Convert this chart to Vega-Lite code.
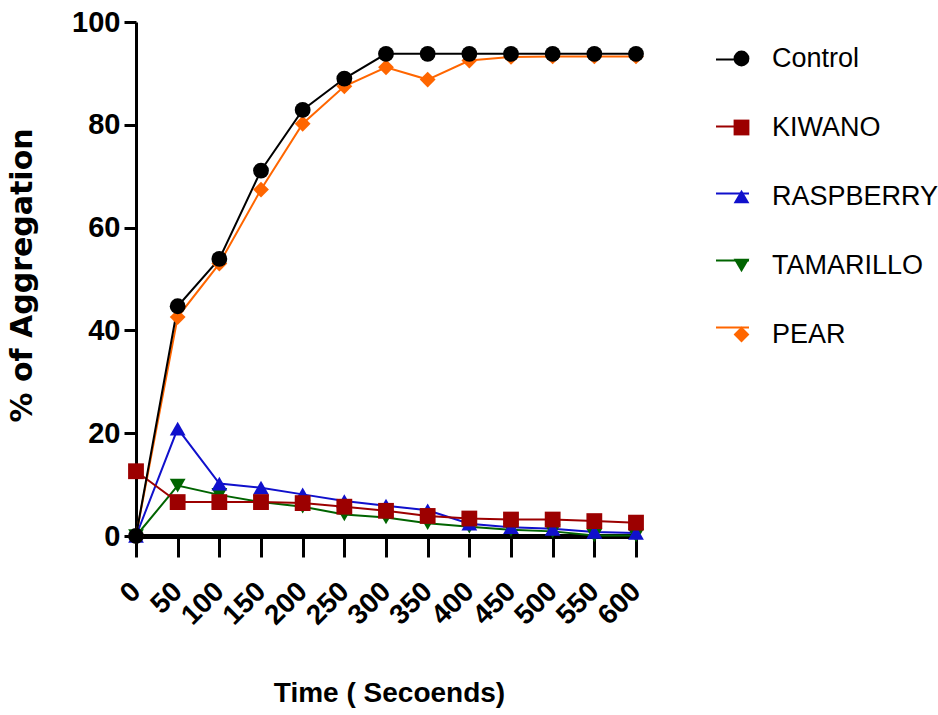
{
  "$schema": "https://vega.github.io/schema/vega-lite/v6.json",
  "width": 500,
  "height": 514,
  "autosize": {"type": "none"},
  "padding": {"left": 136, "top": 22, "right": 302, "bottom": 179},
  "background": "white",
  "config": {"view": {"stroke": null}, "font": "Liberation Sans"},
  "data": {
    "values": [
      {"t": 0, "series": "PEAR", "v": 0},
      {"t": 50, "series": "PEAR", "v": 42.6},
      {"t": 100, "series": "PEAR", "v": 53.0},
      {"t": 150, "series": "PEAR", "v": 67.4},
      {"t": 200, "series": "PEAR", "v": 80.2},
      {"t": 250, "series": "PEAR", "v": 87.5},
      {"t": 300, "series": "PEAR", "v": 91.2},
      {"t": 350, "series": "PEAR", "v": 88.8},
      {"t": 400, "series": "PEAR", "v": 92.5},
      {"t": 450, "series": "PEAR", "v": 93.2},
      {"t": 500, "series": "PEAR", "v": 93.3},
      {"t": 550, "series": "PEAR", "v": 93.3},
      {"t": 600, "series": "PEAR", "v": 93.3},
      {"t": 0, "series": "TAMARILLO", "v": 0},
      {"t": 50, "series": "TAMARILLO", "v": 9.8},
      {"t": 100, "series": "TAMARILLO", "v": 8.0},
      {"t": 150, "series": "TAMARILLO", "v": 6.6},
      {"t": 200, "series": "TAMARILLO", "v": 5.7},
      {"t": 250, "series": "TAMARILLO", "v": 4.2},
      {"t": 300, "series": "TAMARILLO", "v": 3.6},
      {"t": 350, "series": "TAMARILLO", "v": 2.5},
      {"t": 400, "series": "TAMARILLO", "v": 1.8},
      {"t": 450, "series": "TAMARILLO", "v": 1.2},
      {"t": 500, "series": "TAMARILLO", "v": 0.9},
      {"t": 550, "series": "TAMARILLO", "v": 0.1},
      {"t": 600, "series": "TAMARILLO", "v": 0.1},
      {"t": 0, "series": "RASPBERRY", "v": 0},
      {"t": 50, "series": "RASPBERRY", "v": 20.9},
      {"t": 100, "series": "RASPBERRY", "v": 10.2},
      {"t": 150, "series": "RASPBERRY", "v": 9.4},
      {"t": 200, "series": "RASPBERRY", "v": 8.1},
      {"t": 250, "series": "RASPBERRY", "v": 6.8},
      {"t": 300, "series": "RASPBERRY", "v": 5.9},
      {"t": 350, "series": "RASPBERRY", "v": 5.0},
      {"t": 400, "series": "RASPBERRY", "v": 2.4},
      {"t": 450, "series": "RASPBERRY", "v": 1.7},
      {"t": 500, "series": "RASPBERRY", "v": 1.4},
      {"t": 550, "series": "RASPBERRY", "v": 0.8},
      {"t": 600, "series": "RASPBERRY", "v": 0.6},
      {"t": 0, "series": "KIWANO", "v": 12.6},
      {"t": 50, "series": "KIWANO", "v": 6.6},
      {"t": 100, "series": "KIWANO", "v": 6.6},
      {"t": 150, "series": "KIWANO", "v": 6.6},
      {"t": 200, "series": "KIWANO", "v": 6.4},
      {"t": 250, "series": "KIWANO", "v": 5.7},
      {"t": 300, "series": "KIWANO", "v": 4.9},
      {"t": 350, "series": "KIWANO", "v": 3.9},
      {"t": 400, "series": "KIWANO", "v": 3.4},
      {"t": 450, "series": "KIWANO", "v": 3.2},
      {"t": 500, "series": "KIWANO", "v": 3.2},
      {"t": 550, "series": "KIWANO", "v": 2.9},
      {"t": 600, "series": "KIWANO", "v": 2.6},
      {"t": 0, "series": "Control", "v": 0},
      {"t": 50, "series": "Control", "v": 44.7},
      {"t": 100, "series": "Control", "v": 53.9},
      {"t": 150, "series": "Control", "v": 71.1},
      {"t": 200, "series": "Control", "v": 82.9},
      {"t": 250, "series": "Control", "v": 89.0},
      {"t": 300, "series": "Control", "v": 93.8},
      {"t": 350, "series": "Control", "v": 93.8},
      {"t": 400, "series": "Control", "v": 93.8},
      {"t": 450, "series": "Control", "v": 93.8},
      {"t": 500, "series": "Control", "v": 93.8},
      {"t": 550, "series": "Control", "v": 93.8},
      {"t": 600, "series": "Control", "v": 93.8}
    ]
  },
  "encoding": {
    "x": {
      "field": "t",
      "type": "quantitative",
      "scale": {"domain": [0, 600], "nice": false, "zero": false},
      "axis": {
        "values": [0, 50, 100, 150, 200, 250, 300, 350, 400, 450, 500, 550, 600],
        "title": "Time ( Secoends)",
        "titleFont": "Liberation Sans",
        "titleFontSize": 28,
        "titleFontWeight": "bold",
        "titleColor": "black",
        "titleY": 165,
        "titleBaseline": "alphabetic",
        "titleX": 253,
        "titleAlign": "center",
        "labelAngle": -45,
        "labelAlign": "right",
        "labelBaseline": "middle",
        "labelFont": "Liberation Sans",
        "labelFontSize": 28,
        "labelFontWeight": "bold",
        "labelColor": "black",
        "labelPadding": 30,
        "labelDx": 4,
        "labelFlush": false,
        "labelOverlap": false,
        "tickSize": 21,
        "tickWidth": 3,
        "tickColor": "black",
        "domainColor": "black",
        "domainWidth": 5,
        "grid": false
      }
    },
    "y": {
      "field": "v",
      "type": "quantitative",
      "scale": {"domain": [0, 100], "nice": false},
      "axis": {
        "values": [0, 20, 40, 60, 80, 100],
        "title": "% of Aggregation",
        "titleFont": "DejaVu Sans",
        "titleFontSize": 30,
        "titleFontWeight": "bold",
        "titleColor": "black",
        "titleAngle": -90,
        "titleX": -114,
        "titleY": 253,
        "titleAlign": "center",
        "titleBaseline": "middle",
        "labelFont": "Liberation Sans",
        "labelFontSize": 29,
        "labelFontWeight": "bold",
        "labelColor": "black",
        "labelPadding": 4,
        "labelFlush": false,
        "tickSize": 12,
        "tickWidth": 3,
        "tickColor": "black",
        "domainColor": "black",
        "domainWidth": 3,
        "grid": false
      }
    }
  },
  "layer": [
    {
      "mark": {"type": "line", "strokeWidth": 2},
      "encoding": {
        "stroke": {
          "field": "series",
          "type": "nominal",
          "scale": {
            "domain": ["Control", "KIWANO", "RASPBERRY", "TAMARILLO", "PEAR"],
            "range": ["#000000", "#9c0000", "#1010cc", "#006400", "#ff6600"]
          },
          "legend": {
            "orient": "none",
            "legendX": 579,
            "legendY": 20,
            "title": null,
            "padding": 0,
            "symbolType": "stroke",
            "symbolSize": 1089,
            "symbolStrokeWidth": 2,
            "labelExpr": "''",
            "labelFontSize": 26,
            "rowPadding": 36
          }
        }
      }
    },
    {
      "mark": {"type": "point", "filled": true, "opacity": 1, "size": 250},
      "encoding": {
        "shape": {
          "field": "series",
          "type": "nominal",
          "scale": {
            "domain": ["Control", "KIWANO", "RASPBERRY", "TAMARILLO", "PEAR"],
            "range": ["circle", "square", "triangle-up", "triangle-down", "diamond"]
          },
          "legend": {
            "orient": "right",
            "offset": 65,
            "padding": 23,
            "title": null,
            "symbolSize": 250,
            "symbolStrokeWidth": 0,
            "symbolOpacity": 1,
            "labelFont": "Liberation Sans",
            "labelFontSize": 27,
            "labelColor": "black",
            "labelLimit": 400,
            "labelOffset": 17,
            "rowPadding": 41
          }
        },
        "fill": {
          "field": "series",
          "type": "nominal",
          "scale": {
            "domain": ["Control", "KIWANO", "RASPBERRY", "TAMARILLO", "PEAR"],
            "range": ["#000000", "#9c0000", "#1010cc", "#006400", "#ff6600"]
          },
          "legend": null
        }
      }
    }
  ]
}
